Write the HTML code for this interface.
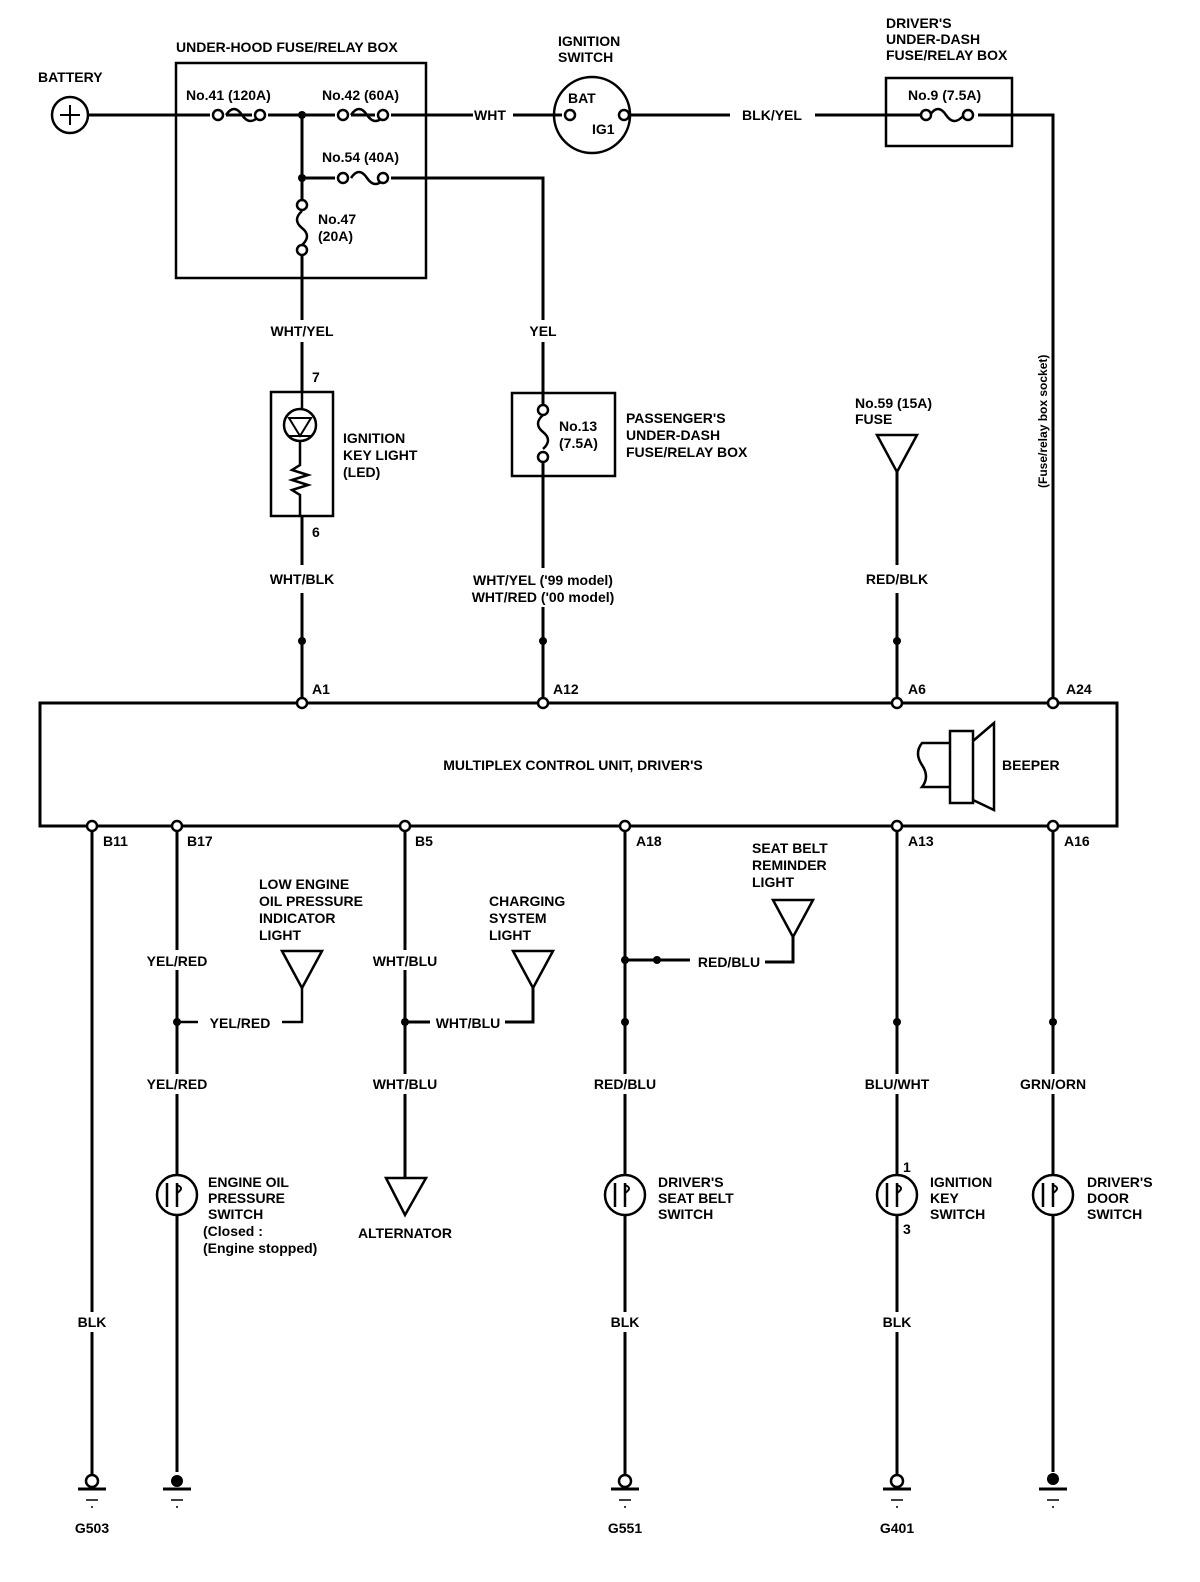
<!DOCTYPE html>
<html><head><meta charset="utf-8"><style>
html,body{margin:0;padding:0;background:#fff;}
svg{display:block;}
text{font-family:"Liberation Sans",sans-serif;font-weight:bold;font-size:14px;fill:#000;}
</style></head><body>
<svg width="1200" height="1582" viewBox="0 0 1200 1582" xmlns="http://www.w3.org/2000/svg">
<g fill="none" stroke="#000" stroke-width="3">
<circle cx="70" cy="115" r="18" stroke-width="2.5"/>
<path d="M60 115H80M70 105V125" stroke-width="2"/>
<path d="M88 115H210M226 115H252M268 115H335M351 115H375M391 115H473"/>
<path d="M513 115H562"/>
<path d="M226 115q8-12 16 0t18 0M351 115q8-12 16 0t18 0M351 178q8-12 16 0t18 0" stroke-width="2.5"/>
<circle cx="218" cy="115" r="5" fill="#fff" stroke-width="2.5"/><circle cx="260" cy="115" r="5" fill="#fff" stroke-width="2.5"/>
<circle cx="343" cy="115" r="5" fill="#fff" stroke-width="2.5"/><circle cx="383" cy="115" r="5" fill="#fff" stroke-width="2.5"/>
<circle cx="343" cy="178" r="5" fill="#fff" stroke-width="2.5"/><circle cx="383" cy="178" r="5" fill="#fff" stroke-width="2.5"/>
<rect x="176" y="63" width="250" height="215" stroke-width="2.5"/>
<path d="M302 115V199M302 178H335M391 178H543V320"/>
<path d="M302 211q-10 9 0 17t0 17" stroke-width="2.5"/>
<circle cx="302" cy="205" r="5" fill="#fff" stroke-width="2.5"/><circle cx="302" cy="250" r="5" fill="#fff" stroke-width="2.5"/>
<path d="M302 256V320"/>
<circle cx="592" cy="115" r="38" stroke-width="2.5"/>
<circle cx="570" cy="115" r="5" fill="#fff" stroke-width="2.5"/>
<circle cx="624" cy="115" r="5" fill="#fff" stroke-width="2.5"/>
<path d="M630 115H730M815 115H920M978 115H1053V703"/>
<rect x="886" y="78" width="126" height="68" stroke-width="2.5"/>
<path d="M930 115q8-12 16 0t18 0" stroke-width="2.5"/>
<circle cx="926" cy="115" r="5" fill="#fff" stroke-width="2.5"/><circle cx="968" cy="115" r="5" fill="#fff" stroke-width="2.5"/>
<path d="M302 342V392"/>
<rect x="271" y="392" width="62" height="124" stroke-width="2.5"/>
<circle cx="300" cy="425" r="16" stroke-width="2.5"/>
<path d="M289 418H311L300 436ZM289 436H311" stroke-width="2"/>
<path d="M302 392V409M300 441V465l-8 5 16 5-16 5 16 5-16 5 8 5V516" stroke-width="2.5"/>
<path d="M302 516V565M302 593V703"/>
<path d="M543 342V405"/>
<rect x="512" y="393" width="103" height="83" stroke-width="2.5"/>
<path d="M543 415q-10 9 0 17t0 17" stroke-width="2.5"/>
<circle cx="543" cy="410" r="5" fill="#fff" stroke-width="2.5"/><circle cx="543" cy="457" r="5" fill="#fff" stroke-width="2.5"/>
<path d="M543 462V568M543 607V703"/>
<path d="M877 435H917L897 472Z" stroke-width="2.5"/>
<path d="M897 472V565M897 593V703"/>
<rect x="40" y="703" width="1077" height="123" stroke-width="3"/>
<path d="M950 731H973V803H950ZM973 741L994 723V810L973 800" stroke-width="2.5"/>
<path d="M950 743H922q-8 10 0 22t0 22L925 787H950" stroke-width="2.5"/>
<path d="M92 826V1312M92 1332V1476"/>
<path d="M177 826V950M177 970V1074M177 1094V1175M177 1215V1472"/>
<path d="M177 1022H198M282 1022H302V988" stroke-width="2.5"/>
<path d="M282 951H322L302 988Z" stroke-width="2.5"/>
<path d="M405 826V950M405 970V1074M405 1094V1178M405 1022H430M505 1022H533V988"/>
<path d="M513 951H553L533 988Z" stroke-width="2.5"/>
<path d="M386 1178H426L405 1215Z" stroke-width="2.5"/>
<path d="M625 826V1074M625 1094V1175M625 1215V1312M625 1332V1476M625 960H690M765 962H793V937"/>
<path d="M773 900H813L793 937Z" stroke-width="2.5"/>
<path d="M897 826V1074M897 1094V1175M897 1215V1312M897 1332V1476"/>
<path d="M1053 826V1074M1053 1094V1175M1053 1215V1472"/>
<g stroke-width="2.5">
<circle cx="177" cy="1195" r="20"/><circle cx="625" cy="1195" r="20"/><circle cx="897" cy="1195" r="20"/><circle cx="1053" cy="1195" r="20"/>
<path d="M167 1183V1207M177 1183V1207M615 1183V1207M625 1183V1207M887 1183V1207M897 1183V1207M1043 1183V1207M1053 1183V1207"/>
<path d="M177 1185q8 3 0 8M625 1185q8 3 0 8M897 1185q8 3 0 8M1053 1185q8 3 0 8" stroke-width="2"/>
</g>
<path d="M78 1489H106M163 1489H191M611 1489H639M883 1489H911M1039 1489H1067"/>
<path stroke-width="1.5" d="M86 1500H98M91 1507H93M171 1500H183M176 1507H178M619 1500H631M624 1507H626M891 1500H903M896 1507H898M1047 1500H1059M1052 1507H1054"/>
</g>
<g fill="#fff" stroke="#000" stroke-width="2.5">
<circle cx="302" cy="703" r="5"/><circle cx="543" cy="703" r="5"/><circle cx="897" cy="703" r="5"/><circle cx="1053" cy="703" r="5"/>
<circle cx="92" cy="826" r="5"/><circle cx="177" cy="826" r="5"/><circle cx="405" cy="826" r="5"/><circle cx="625" cy="826" r="5"/><circle cx="897" cy="826" r="5"/><circle cx="1053" cy="826" r="5"/>
<circle cx="92" cy="1481" r="6"/><circle cx="625" cy="1481" r="6"/><circle cx="897" cy="1481" r="6"/>
</g>
<g fill="#000">
<circle cx="302" cy="115" r="4"/><circle cx="302" cy="178" r="4"/>
<circle cx="302" cy="641" r="4"/><circle cx="543" cy="641" r="4"/><circle cx="897" cy="641" r="4"/>
<circle cx="177" cy="1022" r="4"/><circle cx="405" cy="1022" r="4"/><circle cx="625" cy="960" r="4"/><circle cx="657" cy="960" r="4"/>
<circle cx="625" cy="1022" r="4"/><circle cx="897" cy="1022" r="4"/><circle cx="1053" cy="1022" r="4"/>
<circle cx="177" cy="1481" r="6"/><circle cx="1053" cy="1479" r="6"/>
</g>
<g>
<text x="38" y="82">BATTERY</text>
<text x="176" y="52">UNDER-HOOD FUSE/RELAY BOX</text>
<text x="186" y="100">No.41 (120A)</text>
<text x="322" y="100">No.42 (60A)</text>
<text x="322" y="162">No.54 (40A)</text>
<text x="318" y="224">No.47</text>
<text x="318" y="241">(20A)</text>
<text x="490" y="120" text-anchor="middle">WHT</text>
<text x="558" y="46">IGNITION</text>
<text x="558" y="62">SWITCH</text>
<text x="568" y="103">BAT</text>
<text x="592" y="134">IG1</text>
<text x="772" y="120" text-anchor="middle">BLK/YEL</text>
<text x="886" y="28">DRIVER'S</text>
<text x="886" y="44">UNDER-DASH</text>
<text x="886" y="60">FUSE/RELAY BOX</text>
<text x="908" y="100">No.9 (7.5A)</text>
<text x="302" y="336" text-anchor="middle">WHT/YEL</text>
<text x="543" y="336" text-anchor="middle">YEL</text>
<text x="312" y="382">7</text>
<text x="312" y="537">6</text>
<text x="343" y="443">IGNITION</text>
<text x="343" y="460">KEY LIGHT</text>
<text x="343" y="477">(LED)</text>
<text x="559" y="431">No.13</text>
<text x="559" y="448">(7.5A)</text>
<text x="626" y="423">PASSENGER'S</text>
<text x="626" y="440">UNDER-DASH</text>
<text x="626" y="457">FUSE/RELAY BOX</text>
<text x="855" y="408">No.59 (15A)</text>
<text x="855" y="424">FUSE</text>
<text transform="translate(1047 488) rotate(-90)" style="font-size:12px">(Fuse/relay box socket)</text>
<text x="302" y="584" text-anchor="middle">WHT/BLK</text>
<text x="543" y="585" text-anchor="middle">WHT/YEL ('99 model)</text>
<text x="543" y="602" text-anchor="middle">WHT/RED ('00 model)</text>
<text x="897" y="584" text-anchor="middle">RED/BLK</text>
<text x="312" y="694">A1</text><text x="553" y="694">A12</text><text x="908" y="694">A6</text><text x="1066" y="694">A24</text>
<text x="573" y="770" text-anchor="middle">MULTIPLEX CONTROL UNIT, DRIVER'S</text>
<text x="1002" y="770">BEEPER</text>
<text x="103" y="846">B11</text><text x="187" y="846">B17</text><text x="415" y="846">B5</text><text x="636" y="846">A18</text><text x="908" y="846">A13</text><text x="1064" y="846">A16</text>
<text x="259" y="889">LOW ENGINE</text><text x="259" y="906">OIL PRESSURE</text><text x="259" y="923">INDICATOR</text><text x="259" y="940">LIGHT</text>
<text x="489" y="906">CHARGING</text><text x="489" y="923">SYSTEM</text><text x="489" y="940">LIGHT</text>
<text x="752" y="853">SEAT BELT</text><text x="752" y="870">REMINDER</text><text x="752" y="887">LIGHT</text>
<text x="177" y="966" text-anchor="middle">YEL/RED</text>
<text x="240" y="1028" text-anchor="middle">YEL/RED</text>
<text x="177" y="1089" text-anchor="middle">YEL/RED</text>
<text x="405" y="966" text-anchor="middle">WHT/BLU</text>
<text x="468" y="1028" text-anchor="middle">WHT/BLU</text>
<text x="405" y="1089" text-anchor="middle">WHT/BLU</text>
<text x="729" y="967" text-anchor="middle">RED/BLU</text>
<text x="625" y="1089" text-anchor="middle">RED/BLU</text>
<text x="897" y="1089" text-anchor="middle">BLU/WHT</text>
<text x="1053" y="1089" text-anchor="middle">GRN/ORN</text>
<text x="208" y="1187">ENGINE OIL</text><text x="208" y="1203">PRESSURE</text><text x="208" y="1219">SWITCH</text>
<text x="203" y="1236">(Closed :</text><text x="203" y="1253">(Engine stopped)</text>
<text x="405" y="1238" text-anchor="middle">ALTERNATOR</text>
<text x="658" y="1187">DRIVER'S</text><text x="658" y="1203">SEAT BELT</text><text x="658" y="1219">SWITCH</text>
<text x="930" y="1187">IGNITION</text><text x="930" y="1203">KEY</text><text x="930" y="1219">SWITCH</text>
<text x="903" y="1172">1</text><text x="903" y="1234">3</text>
<text x="1087" y="1187">DRIVER'S</text><text x="1087" y="1203">DOOR</text><text x="1087" y="1219">SWITCH</text>
<text x="92" y="1327" text-anchor="middle">BLK</text>
<text x="625" y="1327" text-anchor="middle">BLK</text>
<text x="897" y="1327" text-anchor="middle">BLK</text>
<text x="92" y="1533" text-anchor="middle">G503</text>
<text x="625" y="1533" text-anchor="middle">G551</text>
<text x="897" y="1533" text-anchor="middle">G401</text>
</g>
</svg>
</body></html>
